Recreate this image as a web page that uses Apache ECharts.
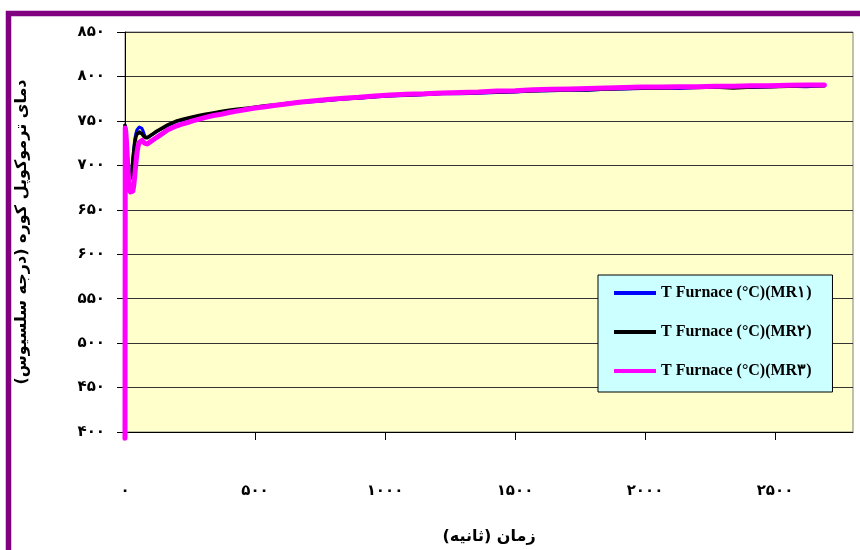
<!DOCTYPE html>
<html>
<head>
<meta charset="utf-8">
<script src="https://cdn.jsdelivr.net/npm/echarts@6/dist/echarts.min.js"></script>
<style>html,body{margin:0;padding:0;background:#fff;}#c{width:860px;height:550px;}</style>
</head>
<body>
<div id="c"></div>
<script>
const seriesNames = ['T Furnace (°C)(MR۱)', 'T Furnace (°C)(MR۲)', 'T Furnace (°C)(MR۳)'];
const times = [0,1,3,6,9,12,15,18,21,24,27,30,34,38,42,46,50,55,60,65,70,75,80,85,90,100,110,120,135,150,165,180,200,220,240,260,285,310,340,370,400,430,460,500,540,580,620,670,720,780,840,900,960,1020,1080,1150,1220,1290,1360,1430,1500,1570,1640,1710,1780,1850,1920,1990,2060,2130,2200,2270,2340,2410,2480,2550,2620,2690];
const mr1 = [745,744,739,727,711,698,690,686,686,690,697,707,720,730,736,740,742,743,743,741.5,738.5,734,731,730.5,731.5,733.5,735.5,737.5,740,742.5,745,747,749.5,751,752.5,754,755.5,757,758.5,760,761.5,762.5,763.5,765,766.5,767.5,769,770.5,771.5,773,774.5,775.5,777,778,778.5,779.5,780.5,780.5,781,782,782.5,783.5,784,784.5,784.5,785.5,786,786.5,787,786.5,787.5,787.5,788,787.5,788.5,789,788.5,789.5];
const mr2 = [745,744,738,725,708,695,688,684,684,688,695,704,716,726,732,735,737,737.5,737,735.5,733.5,731.5,730.5,731,732,734,736,738,740.5,743,745.5,747.5,750,751.5,753,754.5,756,757.5,759,760.5,762,763,764,765.5,767,768,769.5,771,772,773.5,775,776,777.5,778.5,779,780,781,781.5,782,782.5,783,784,784.5,785,785,786,786.5,787,787,787.5,787.5,788,787,788,788.5,789,789.5,789.5];
const mr3 = [393,742,738,725,708,692,680,673,670,669,669,671,678,690,703,714,721,726,728,728,727,725,724,724,725,727,729,731,734,737,740,742,744.5,746.5,748,750,752,754,756,757.5,759.5,761,762.5,764.5,766,767.5,769,771,772.5,774,775.5,776.5,778,779,780,780.5,781.5,782,782.5,783.5,784,785,785.5,786,786.5,787,787.5,788,788,788.5,788.5,789,789,789.5,789.5,790,790.5,790.5];
const xTickValues = [0,500,1000,1500,2000,2500];
const xTickLabels = ['۰','۵۰۰','۱۰۰۰','۱۵۰۰','۲۰۰۰','۲۵۰۰'];
const yTickValues = [400,450,500,550,600,650,700,750,800,850];
const yTickLabels = ['۴۰۰','۴۵۰','۵۰۰','۵۵۰','۶۰۰','۶۵۰','۷۰۰','۷۵۰','۸۰۰','۸۵۰'];
const xTitle = 'زمان (ثانیه)';
const yTitle = 'دمای ترموکوپل کوره (درجه سلسیوس)';
const colors = ['#0000FF', '#000000', '#FF00FF'];
const widths = [3, 3.5, 5];

const chart = echarts.init(document.getElementById('c'), null, {renderer: 'canvas'});
const font = '"DejaVu Sans", sans-serif';
const allVals = [mr1, mr2, mr3];
chart.setOption({
  animation: false,
  backgroundColor: '#ffffff',
  graphic: [{
    type: 'rect', silent: true, z: 100,
    shape: {x: 8.5, y: 13.5, width: 900, height: 600},
    style: {fill: 'none', stroke: '#800080', lineWidth: 5.5}
  }],
  grid: {left: 125, top: 32, right: 7, bottom: 117, show: true, backgroundColor: '#FFFFCC', borderColor: '#808080', borderWidth: 1},
  legend: {
    orient: 'vertical', left: 598, top: 275,
    backgroundColor: '#CCFFFF', borderColor: '#000000', borderWidth: 1,
    padding: [9, 21, 12, 16], itemGap: 21, itemWidth: 42, itemHeight: 4,
    icon: 'rect',
    textStyle: {fontFamily: '"Liberation Serif", "DejaVu Serif", serif', fontWeight: 'bold', fontSize: 16, color: '#000', lineHeight: 18},
    data: seriesNames
  },
  xAxis: {
    type: 'value', min: 0, max: 2800, interval: 500,
    name: xTitle, nameLocation: 'middle', nameGap: 97,
    nameTextStyle: {fontFamily: font, fontWeight: 'bold', fontSize: 16, color: '#000'},
    axisLine: {show: true, onZero: false, lineStyle: {color: '#000', width: 1}},
    axisTick: {show: true, inside: false, length: 8, lineStyle: {color: '#000'}, customValues: xTickValues},
    axisLabel: {margin: 52, fontFamily: font, fontWeight: 'bold', fontSize: 15, color: '#000',
      customValues: xTickValues,
      formatter: v => xTickLabels[xTickValues.indexOf(v)] || ''},
    splitLine: {show: false}
  },
  yAxis: {
    type: 'value', min: 400, max: 850, interval: 50,
    name: yTitle, nameLocation: 'middle', nameGap: 95, nameRotate: 90,
    nameTextStyle: {fontFamily: font, fontWeight: 'bold', fontSize: 16, color: '#000'},
    axisLine: {show: true, onZero: false, lineStyle: {color: '#000', width: 1}},
    axisTick: {show: true, inside: false, length: 8, lineStyle: {color: '#000'}},
    axisLabel: {margin: 20, fontFamily: font, fontWeight: 'bold', fontSize: 15, color: '#000',
      formatter: v => yTickLabels[yTickValues.indexOf(v)] || ''},
    splitLine: {show: true, lineStyle: {color: '#333333', width: 1}}
  },
  series: seriesNames.map((n, i) => ({
    name: n, type: 'line', showSymbol: false, symbol: 'none', clip: false,
    data: times.map((t, k) => [t, allVals[i][k]]),
    lineStyle: {color: colors[i], width: widths[i], join: 'round', cap: 'round'},
    itemStyle: {color: colors[i]},
    z: 2 + i
  }))
});
</script>
</body>
</html>
